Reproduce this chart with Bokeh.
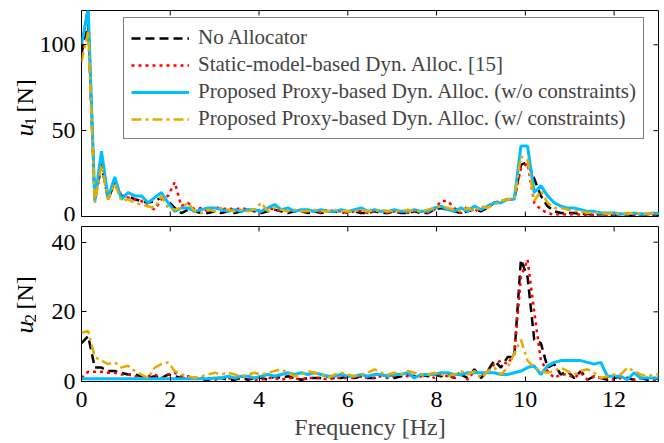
import numpy as np
from bokeh.plotting import figure
from bokeh.layouts import column, row
from bokeh.models import (ColumnDataSource, Legend, LegendItem,
                          FixedTicker, Range1d)
from bokeh.core.properties import value
from bokeh.embed import file_html
from bokeh.resources import INLINE

# ---------------- data ----------------
freq = [round(i * 0.15, 2) for i in range(88)]

u1_none = [95, 112, 9, 30, 10, 20, 12, 12, 10, 9, 8, 9, 11, 9, 5, 2, 4, 3, 2, 2,
           3, 2, 3, 2, 3, 4, 3, 2, 3, 4, 3, 2, 3, 3, 2, 3, 2, 3, 3, 2,
           3, 3, 2, 2, 3, 2, 2, 3, 2, 2, 3, 2, 2, 4, 5, 4, 3, 2, 3, 4,
           3, 5, 8, 9, 10, 10, 30, 32, 22, 12, 6, 3, 2, 2, 2, 1.5, 1.5, 1, 1.5, 1,
           1, 1.5, 1, 1, 1.5, 1, 1, 1]
u1_static = [100, 122, 10, 33, 10, 20, 12, 11, 10, 9, 6, 4, 10, 12, 20, 6, 8, 4, 5, 3,
             6, 4, 5, 4, 5, 4, 3, 4, 5, 4, 3, 4, 3, 4, 3, 3, 2, 4, 3, 3,
             2, 3, 3, 2, 3, 3, 2, 3, 3, 2, 3, 3, 2, 4, 9, 9, 5, 2, 6, 3,
             5, 6, 8, 9, 10, 10, 28, 31, 8, 4, 2, 1, 1.5, 1, 1.5, 1, 1, 1, 1.5, 1,
             1, 1.5, 1, 1, 1, 1.5, 1, 1]
u1_proxy = [100, 121, 9, 38, 11, 23, 10, 14, 12, 12, 8, 11, 14, 8, 3, 5, 5, 3, 4, 5,
            5, 4, 3, 4, 3, 4, 4, 3, 5, 7, 4, 5, 3, 4, 4, 3, 4, 3, 3, 4,
            3, 4, 5, 3, 4, 3, 3, 4, 3, 3, 4, 3, 3, 5, 6, 4, 3, 5, 3, 6,
            4, 6, 8, 8, 10, 10, 41, 41, 14, 18, 12, 8, 6, 5, 5, 4, 3, 3, 2, 2,
            2, 1.5, 1.5, 2, 1.5, 1.5, 2, 1.5]
u1_proxy_c = [90, 108, 8, 30, 10, 19, 9, 10, 8, 7, 6, 5, 12, 5, 4, 5, 8, 3, 2, 4,
              3, 5, 4, 3, 4, 3, 4, 8, 3, 5, 4, 3, 4, 3, 3, 4, 3, 3, 4, 3,
              3, 3, 4, 3, 3, 4, 3, 3, 3, 4, 3, 3, 4, 5, 6, 5, 4, 3, 5, 3,
              6, 5, 7, 9, 10, 10, 35, 33, 9, 15, 8, 5, 5, 4, 3, 3, 2, 2, 2, 1.5,
              2, 1.5, 2, 1.5, 2, 1.5, 2, 1.5]

u2_none = [11, 13, 4, 4, 3, 3, 2.5, 2, 2, 1.5, 1, 1.5, 1, 2, 1.5, 1, 1, 1, 0.5, 0.5,
           1, 1, 0.5, 0.5, 1, 0.5, 1, 1, 0.5, 1.5, 1, 1.5, 1, 0.5, 1, 1, 1, 1.5, 1, 1,
           1.5, 1, 1.5, 1, 1, 2, 1.5, 1, 1.5, 2, 1.5, 2, 1.5, 2, 1.5, 2, 1, 2, 1, 3.5,
           1, 3, 6, 4, 7, 7, 35, 30, 12, 11, 4, 5, 2, 3, 1, 3, 0.5, 1.5, 1, 0.5,
           1, 1.5, 1, 0.5, 1, 0.5, 1, 0.5]
u2_static = [1, 2.8, 2.8, 2.8, 2.5, 2.5, 2, 2, 1.5, 1, 1.5, 2, 1, 2, 2.5, 1.5, 1.5, 1, 1, 1,
             0.5, 1, 1, 0.5, 1.5, 1, 0.5, 0.5, 1, 1, 0.5, 1, 1, 0.5, 1, 1, 1, 0.5, 1, 1,
             1, 1, 1.5, 1, 1, 1.5, 1, 1.5, 2, 1.5, 1, 1.5, 2, 1, 2, 1.5, 1, 3, 0.5, 3,
             2, 3, 5, 6, 5, 8, 30, 35, 20, 6, 3, 1, 2, 2, 1, 2.5, 0.5, 1.5, 1, 1,
             0.5, 1, 1, 0.5, 1, 1, 0.5, 0.5]
u2_proxy = [0.8, 0.8, 0.8, 0.8, 0.8, 0.8, 0.8, 0.8, 0.8, 0.8, 0.8, 0.8, 0.8, 0.8, 0.8, 0.8, 0.8, 0.8, 0.8, 0.8,
            1, 1, 1.5, 1, 1.5, 1.5, 1, 1.5, 2, 1.5, 2, 2.5, 2, 2.5, 2, 2.5, 2, 1.5, 1.5, 2,
            1.5, 1.5, 2, 1.5, 2, 2, 1.5, 2, 2, 2.5, 1, 2, 2, 2, 2.5, 2.5, 2, 2, 2.5, 2.5,
            2.5, 2.5, 2.5, 2, 2, 2.5, 3, 4, 4.5, 2, 4.5, 5.5, 6, 6, 6, 6, 5.5, 5, 5.5, 1.5,
            1.5, 1.5, 0.5, 2.5, 1, 1, 1, 1]
u2_proxy_c = [14, 14.5, 7, 6, 5, 5.5, 4, 4.5, 3, 2, 1, 4, 5, 5.5, 3, 2, 1.5, 1, 1.5, 2,
              2.5, 2, 2.5, 2, 1.5, 2, 2.5, 2, 2.5, 3, 3.5, 2.5, 1.5, 2, 3, 2.5, 2, 1, 2, 2.5,
              2, 1.5, 2, 2.5, 3.5, 2.5, 2, 2.5, 2, 3, 2.5, 2, 2, 2.5, 2, 1.5, 2, 3, 2, 3,
              1, 3, 4, 2, 4, 8, 12, 6, 4, 3, 2.5, 3, 4, 3, 2, 3, 3.5, 2.5, 1, 1.5,
              2, 2, 4, 3, 2, 1.5, 2, 2]

series_names = ["No Allocator",
                "Static-model-based Dyn. Alloc. [15]",
                "Proposed Proxy-based Dyn. Alloc. (w/o constraints)",
                "Proposed Proxy-based Dyn. Alloc. (w/ constraints)"]
x_ticks = [0, 2, 4, 6, 8, 10, 12]
u1_ticks = [0, 50, 100]
u2_ticks = [0, 20, 40]
x_label = "Frequency [Hz]"

# y-axis label pieces: (symbol, subscript, unit)
ylabel_1 = ("u", "1", "[N]")
ylabel_2 = ("u", "2", "[N]")

colors = ["#000000", "#ff0000", "#00bfff", "#e3ad00"]
dashes = ["9 5", "3 4", "solid", "10 4 3 4"]
widths = [2.5, 2.5, 3, 2.5]

FONT = "Liberation Serif"
LEFT_W = 36
TOTAL_H = 443


def style(p, yticks):
    p.outline_line_color = "black"
    p.outline_line_width = 1
    p.xgrid.visible = False
    p.ygrid.visible = False
    axes = list(p.yaxis) + list(p.xaxis)
    for ax in p.xaxis:
        ax.ticker = FixedTicker(ticks=x_ticks)
    for ax in p.yaxis:
        ax.ticker = FixedTicker(ticks=yticks)
        ax.major_label_standoff = 6
    for ax in axes:
        ax.major_tick_in = 5
        ax.major_tick_out = 0
        ax.minor_tick_line_color = None
        ax.axis_line_color = None
        ax.major_tick_line_color = "black"
        ax.major_label_text_font = FONT
        ax.major_label_text_font_size = "24px"
        ax.major_label_text_color = "black"
    xr, yr = p.x_range, p.y_range
    # mirrored ticks on the top and right edges
    p.ray(x=x_ticks, y=[yr.end] * len(x_ticks), length=5, length_units="screen",
          angle=-np.pi / 2, line_color="black", line_width=1)
    p.ray(x=[xr.end] * len(yticks), y=yticks, length=5, length_units="screen",
          angle=np.pi, line_color="black", line_width=1)


# ---------------- top panel ----------------
p1 = figure(frame_width=577, frame_height=206, output_backend="svg", toolbar_location=None,
            x_range=Range1d(0, 13), y_range=Range1d(0, 120), x_axis_location=None,
            min_border_left=79 - LEFT_W, min_border_right=8, min_border_top=10,
            min_border_bottom=5)
style(p1, u1_ticks)
p1.ray(x=x_ticks, y=[p1.y_range.start] * len(x_ticks), length=5, length_units="screen",
       angle=np.pi / 2, line_color="black", line_width=1)

src1 = ColumnDataSource(dict(f=freq, a=u1_none, b=u1_static, c=u1_proxy, d=u1_proxy_c))
items = []
for key, name, col, dash, w in zip("abcd", series_names, colors, dashes, widths):
    r = p1.line("f", key, source=src1, line_color=col, line_dash=dash, line_width=w)
    items.append(LegendItem(label=name, renderers=[r]))

legend = Legend(items=items, location=(42, 77), orientation="vertical",
                label_text_font=FONT, label_text_font_size="21px",
                glyph_width=58, glyph_height=20, label_height=20, label_standoff=9,
                spacing=2, padding=7, margin=0,
                border_line_color="black", border_line_width=1,
                background_fill_color="white", background_fill_alpha=1)
p1.add_layout(legend, "center")

# ---------------- bottom panel ----------------
p2 = figure(frame_width=577, frame_height=155, output_backend="svg", toolbar_location=None,
            x_range=Range1d(0, 13), y_range=Range1d(0, 44.5),
            min_border_left=79 - LEFT_W, min_border_right=8, min_border_top=5,
            min_border_bottom=62)
style(p2, u2_ticks)
xa = p2.below[0]
xa.major_label_standoff = 10
xa.axis_label = x_label
xa.axis_label_text_font = FONT
xa.axis_label_text_font_size = "24px"
xa.axis_label_text_font_style = "normal"
xa.axis_label_standoff = 4

src2 = ColumnDataSource(dict(f=freq, a=u2_none, b=u2_static, c=u2_proxy, d=u2_proxy_c))
for key, col, dash, w in zip("abcd", colors, dashes, widths):
    p2.line("f", key, source=src2, line_color=col, line_dash=dash, line_width=w)

# ---------------- y-axis labels strip ----------------
lab = figure(frame_width=LEFT_W, frame_height=TOTAL_H, output_backend="svg",
             toolbar_location=None, x_range=Range1d(0, LEFT_W), y_range=Range1d(0, TOTAL_H),
             x_axis_location=None, y_axis_location=None, min_border=0)
lab.outline_line_color = None
lab.xgrid.visible = False
lab.ygrid.visible = False

# start point of each piece (text runs upwards), in pixels from left / from bottom
for (u, sub, unit), sy in ((ylabel_1, TOTAL_H - 136), (ylabel_2, TOTAL_H - 333)):
    lab.text(x=[24], y=[sy], text=[u], angle=np.pi / 2,
             text_font=value(FONT), text_font_style="italic", text_font_size="26px",
             text_baseline="middle", text_align="left", text_color="black")
    lab.text(x=[30], y=[sy + 11], text=[sub], angle=np.pi / 2,
             text_font=value(FONT), text_font_size="17px",
             text_baseline="middle", text_align="left", text_color="black")
    lab.text(x=[24], y=[sy + 24], text=[unit], angle=np.pi / 2,
             text_font=value(FONT), text_font_size="24px",
             text_baseline="middle", text_align="left", text_color="black")

layout = row(lab, column(p1, p2, spacing=0), spacing=0)
open("out.html", "w").write(file_html(layout, INLINE))
